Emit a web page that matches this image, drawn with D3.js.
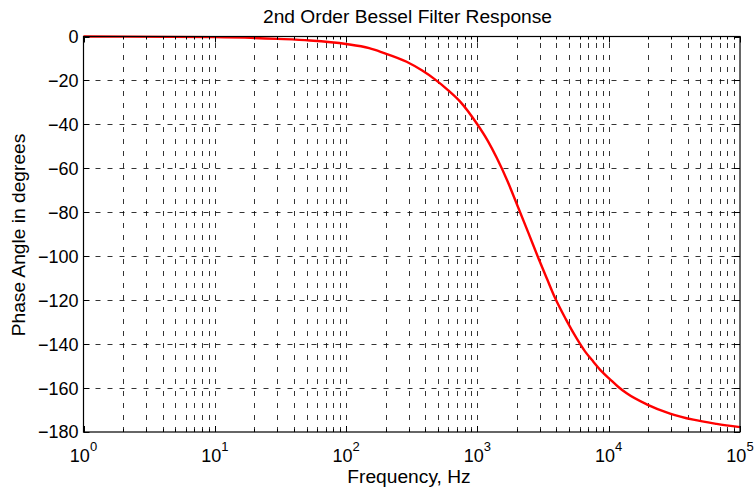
<!DOCTYPE html>
<html>
<head>
<meta charset="utf-8">
<script src="https://cdn.jsdelivr.net/npm/d3@7"></script>
<style>
  html, body { margin: 0; padding: 0; background: #fff; }
  svg { display: block; font-family: "Liberation Sans", Arial, Helvetica, sans-serif; }
</style>
</head>
<body>
<svg id="chart" width="754" height="492"></svg>
<script>
// ---- data ----
const frequencyHz = [1, 10, 30, 53, 100, 150, 190, 289, 380, 475, 600, 736, 989, 1200, 1403, 1700, 1995, 2450, 2911, 3400, 3899, 4700, 5702, 6600, 7638, 8800, 10230, 11800, 13710, 19450, 29310, 44060, 66370, 100000];
const phaseDeg    = [0, -0.3, -1.1, -1.8, -3.4, -5.3, -7.3, -11.5, -15.5, -19.5, -24.5, -29.5, -39.6, -47.5, -55.2, -66, -76.2, -89.5, -100.8, -110.5, -118.9, -128.5, -137.4, -143.3, -148, -152.3, -156, -159.4, -162.4, -167.4, -171.6, -174.4, -176.3, -177.8];
const yTickValues = [0, -20, -40, -60, -80, -100, -120, -140, -160, -180];
const xDecades    = [1, 10, 100, 1000, 10000, 100000];
const titleText = "2nd Order Bessel Filter Response";
const xLabelText = "Frequency, Hz";
const yLabelText = "Phase Angle in degrees";

// ---- layout ----
const L = 83.5, R = 740, T = 36.5, B = 432;
const svg = d3.select("#chart");

const x = d3.scaleLog().domain([1, 100000]).range([L, R]);
const y = d3.scaleLinear().domain([-180, 0]).range([B, T]);

// minor positions for log grid
const minorTicks = [];
for (let k = 0; k < 5; k++) {
  for (let m = 1; m <= 9; m++) minorTicks.push(m * Math.pow(10, k));
}
minorTicks.push(100000);

const grid = svg.append("g").attr("class", "grid");
grid.selectAll("line.v").data(minorTicks.filter(v => v > 1 && v < 100000)).enter()
  .append("line")
  .attr("x1", d => Math.round(x(d)) + 0.5).attr("x2", d => Math.round(x(d)) + 0.5)
  .attr("y1", B).attr("y2", T)
  .attr("stroke", "#000").attr("stroke-width", 0.8)
  .attr("stroke-dasharray", "5,7");
grid.selectAll("line.h").data(yTickValues.filter(v => v > -180 && v < 0)).enter()
  .append("line")
  .attr("x1", L).attr("x2", R)
  .attr("y1", d => Math.round(y(d)) + 0.5).attr("y2", d => Math.round(y(d)) + 0.5)
  .attr("stroke", "#000").attr("stroke-width", 0.8)
  .attr("stroke-dasharray", "5,7");

// ---- curve ----
const line = d3.line()
  .x((d, i) => x(frequencyHz[i]))
  .y(d => y(d))
  .curve(d3.curveMonotoneX);
svg.append("path")
  .datum(phaseDeg)
  .attr("d", line)
  .attr("fill", "none")
  .attr("stroke", "#ff0000")
  .attr("stroke-width", 2.4);

// ---- axes (box with inward ticks) ----
const axisG = svg.append("g");
function logTickLen(d) {
  const lg = Math.log10(d);
  return Math.abs(lg - Math.round(lg)) < 1e-9 ? 6 : 3;
}
axisG.selectAll("line.tb").data(minorTicks).enter().append("line")
  .attr("x1", d => Math.round(x(d)) + 0.5).attr("x2", d => Math.round(x(d)) + 0.5)
  .attr("y1", B).attr("y2", d => B - logTickLen(d))
  .attr("stroke", "#000").attr("stroke-width", 1);
axisG.selectAll("line.tt").data(minorTicks).enter().append("line")
  .attr("x1", d => Math.round(x(d)) + 0.5).attr("x2", d => Math.round(x(d)) + 0.5)
  .attr("y1", T).attr("y2", d => T + logTickLen(d))
  .attr("stroke", "#000").attr("stroke-width", 1);
axisG.selectAll("line.tl").data(yTickValues).enter().append("line")
  .attr("x1", L).attr("x2", L + 6)
  .attr("y1", d => Math.round(y(d)) + 0.5).attr("y2", d => Math.round(y(d)) + 0.5)
  .attr("stroke", "#000").attr("stroke-width", 1);
axisG.selectAll("line.tr").data(yTickValues).enter().append("line")
  .attr("x1", R).attr("x2", R - 6)
  .attr("y1", d => Math.round(y(d)) + 0.5).attr("y2", d => Math.round(y(d)) + 0.5)
  .attr("stroke", "#000").attr("stroke-width", 1);

axisG.append("rect")
  .attr("x", L).attr("y", T).attr("width", R - L).attr("height", B - T)
  .attr("fill", "none").attr("stroke", "#000").attr("stroke-width", 1.2);

// y tick labels
svg.append("g").selectAll("text").data(yTickValues).enter().append("text")
  .attr("x", L - 5).attr("y", d => y(d))
  .attr("dy", "0.36em")
  .attr("text-anchor", "end")
  .attr("font-size", 18)
  .attr("fill", "#000")
  .text(d => d3.format("d")(d));

// x tick labels 10^k
const xl = svg.append("g").selectAll("text").data(xDecades).enter().append("text")
  .attr("x", d => x(d))
  .attr("y", 462)
  .attr("text-anchor", "middle")
  .attr("font-size", 18)
  .attr("fill", "#000");
xl.append("tspan").text("10");
xl.append("tspan").attr("dy", -11).attr("font-size", 13).text(d => Math.round(Math.log10(d)));

// title
svg.append("text")
  .attr("x", 407.5).attr("y", 23)
  .attr("text-anchor", "middle").attr("font-size", 19.2).attr("fill", "#000")
  .text(titleText);

// x label
svg.append("text")
  .attr("x", 409).attr("y", 483)
  .attr("text-anchor", "middle").attr("font-size", 19.2).attr("fill", "#000")
  .text(xLabelText);

// y label
svg.append("text")
  .attr("transform", `translate(25,235) rotate(-90)`)
  .attr("text-anchor", "middle").attr("font-size", 19.2).attr("fill", "#000")
  .text(yLabelText);
</script>
</body>
</html>
